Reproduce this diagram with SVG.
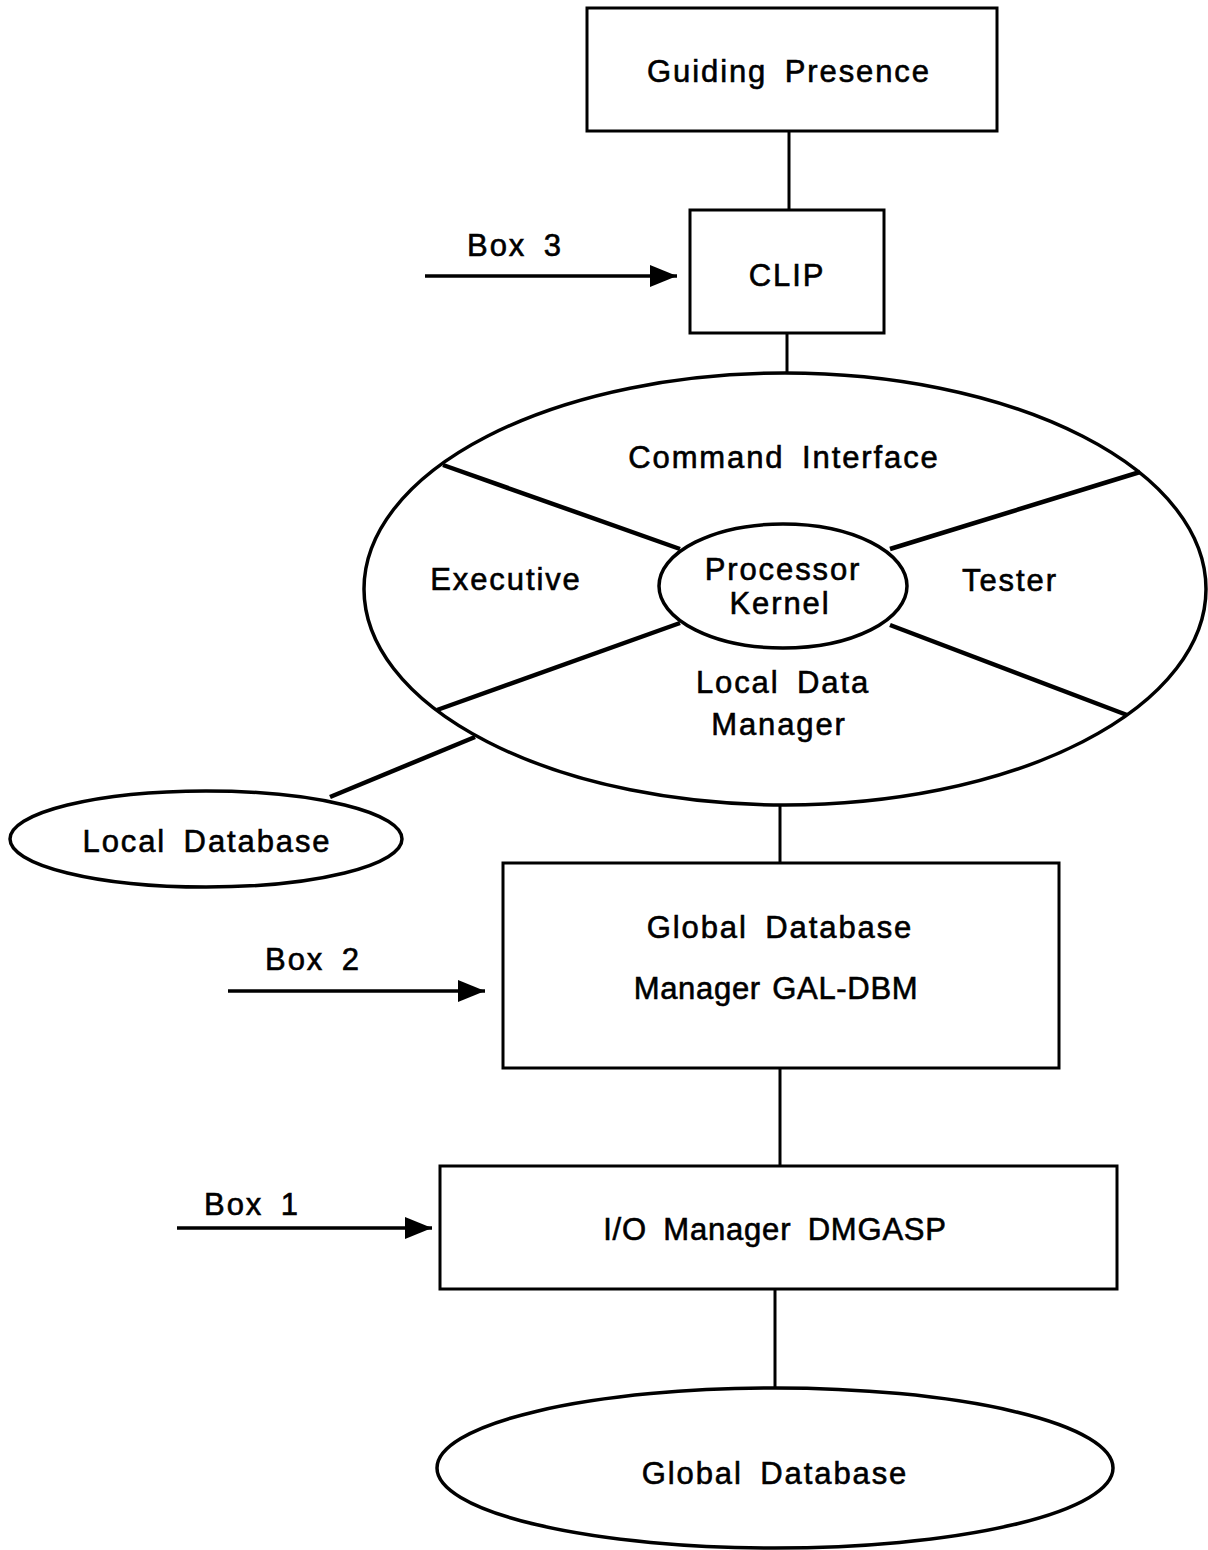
<svg xmlns="http://www.w3.org/2000/svg" width="1208" height="1550" viewBox="0 0 1208 1550">
  <style>
    .shape { fill: #fff; stroke: #000; stroke-width: 3; }
    .oval { fill: #fff; stroke: #000; stroke-width: 3.5; }
    .wire { fill: none; stroke: #000; stroke-width: 3; }
    .feed { fill: none; stroke: #000; stroke-width: 3.5; }
    .spoke { fill: none; stroke: #000; stroke-width: 4.5; }
    text { font-family: "Liberation Sans", Arial, sans-serif; font-size: 31px; fill: #000; stroke: #000; stroke-width: 0.6px; text-anchor: middle; letter-spacing: 1.9px; word-spacing: 7px; }
  </style>
  <defs>
    <marker id="head" viewBox="0 0 27 22" refX="27" refY="11" markerWidth="27" markerHeight="22" markerUnits="userSpaceOnUse" orient="auto">
      <path d="M0,0 L27,11 L0,22 z" fill="#000"/>
    </marker>
  </defs>
  <rect width="1208" height="1550" fill="#fff"/>

  <g id="connectors">
    <line class="wire" x1="789" y1="131" x2="789" y2="210"/>
    <line class="wire" x1="787" y1="333" x2="787" y2="374"/>
    <line class="spoke" x1="475" y1="737" x2="330" y2="797"/>
    <line class="wire" x1="780" y1="805" x2="780" y2="863"/>
    <line class="wire" x1="780" y1="1068" x2="780" y2="1166"/>
    <line class="wire" x1="775" y1="1289" x2="775" y2="1389"/>
    <line class="feed" x1="425" y1="276" x2="677" y2="276" marker-end="url(#head)"/>
    <line class="feed" x1="228" y1="991" x2="485" y2="991" marker-end="url(#head)"/>
    <line class="feed" x1="177" y1="1228" x2="432" y2="1228" marker-end="url(#head)"/>
  </g>

  <g id="guiding-presence">
    <rect class="shape" x="587" y="8" width="410" height="123"/>
    <text x="789" y="82">Guiding Presence</text>
  </g>

  <g id="box3-label">
    <text x="515" y="256">Box 3</text>
  </g>

  <g id="clip">
    <rect class="shape" x="690" y="210" width="194" height="123"/>
    <text x="787" y="286">CLIP</text>
  </g>

  <g id="processor">
    <ellipse class="oval" cx="785" cy="589" rx="421" ry="216"/>
    <line class="spoke" x1="443" y1="465" x2="680" y2="549"/>
    <line class="spoke" x1="1140" y1="472" x2="890" y2="549"/>
    <line class="spoke" x1="437" y1="710" x2="680" y2="623"/>
    <line class="spoke" x1="1127" y1="715" x2="890" y2="625"/>
    <ellipse class="oval" cx="783" cy="586" rx="124" ry="62"/>
    <text x="784" y="468">Command Interface</text>
    <text x="506" y="590">Executive</text>
    <text x="1010" y="591">Tester</text>
    <text x="783" y="580">Processor</text>
    <text x="780" y="614">Kernel</text>
    <text x="783" y="693">Local Data</text>
    <text x="779" y="735">Manager</text>
  </g>

  <g id="local-database">
    <ellipse class="oval" cx="206" cy="839" rx="196" ry="48"/>
    <text x="207" y="852">Local Database</text>
  </g>

  <g id="global-database-manager">
    <rect class="shape" x="503" y="863" width="556" height="205"/>
    <text x="780" y="938">Global Database</text>
    <text x="776" y="999" style="letter-spacing:0.7px;word-spacing:2px">Manager GAL-DBM</text>
  </g>

  <g id="box2-label">
    <text x="313" y="970">Box 2</text>
  </g>

  <g id="io-manager">
    <rect class="shape" x="440" y="1166" width="677" height="123"/>
    <text x="775" y="1240" style="letter-spacing:0.8px">I/O Manager  DMGASP</text>
  </g>

  <g id="box1-label">
    <text x="252" y="1215">Box 1</text>
  </g>

  <g id="global-database">
    <ellipse class="oval" cx="775" cy="1468" rx="338" ry="80"/>
    <text x="775" y="1484">Global Database</text>
  </g>
</svg>
